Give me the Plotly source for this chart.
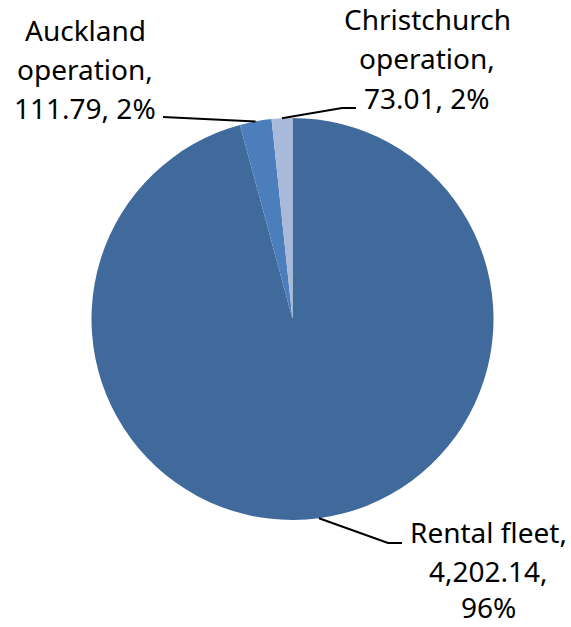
import math
import plotly.graph_objects as go

# ---- data ----
categories = ["Rental fleet", "Auckland operation", "Christchurch operation"]
values = [4202.14, 111.79, 73.01]
pct_labels = [96, 2, 2]          # percentages as printed in the chart
label_lines = [
    ["Rental fleet,", "{v},", "{p}%"],
    ["Auckland", "operation,", "{v}, {p}%"],
    ["Christchurch", "operation,", "{v}, {p}%"],
]
colors = ["#406A9C", "#4C7EBC", "#A8B9DA"]

# ---- layout constants (pixels) ----
W, H = 571, 627
CX, CY, R = 292.5, 319.0, 201.0
label_x = [488, 85, 427]                      # text block centre x
label_baselines = [[542, 581, 617], [40, 79, 118], [29, 68, 108]]
leader_pts = [[(402, 543), (388, 543)],       # label-side points of leader lines
              [(163, 117)],
              [(356, 108), (342, 108)]]

FONT = "Noto Sans, Open Sans, sans-serif"
FS = 28


def px(x):
    return x / W


def py(y):
    return 1 - y / H


fig = go.Figure(go.Pie(
    labels=categories,
    values=values,
    sort=False,
    direction="clockwise",
    rotation=0,
    marker=dict(colors=colors, line=dict(width=0)),
    textinfo="none",
    hoverinfo="label+value+percent",
    showlegend=False,
    domain=dict(x=[px(CX - R), px(CX + R)], y=[py(CY + R), py(CY - R)]),
))

total = sum(values)
cum = 0.0
shapes = []
annotations = []
for i, (cat, v) in enumerate(zip(categories, values)):
    mid = (cum + v / 2) / total * 2 * math.pi
    cum += v
    ex = CX + R * math.sin(mid)
    ey = CY - R * math.cos(mid)
    pts = leader_pts[i] + [(ex, ey)]
    path = "M " + " L ".join(f"{px(x):.5f},{py(y):.5f}" for x, y in pts)
    shapes.append(dict(type="path", xref="paper", yref="paper", path=path,
                       line=dict(color="black", width=2)))
    vtxt = f"{v:,.2f}"
    for line, base in zip(label_lines[i], label_baselines[i]):
        annotations.append(dict(x=px(label_x[i]), y=py(base - 0.36 * FS),
                                xref="paper", yref="paper",
                                text=line.format(v=vtxt, p=pct_labels[i]),
                                showarrow=False, xanchor="center",
                                yanchor="middle", align="center",
                                borderpad=0,
                                font=dict(family=FONT, size=FS, color="black")))

fig.update_layout(
    width=W, height=H,
    margin=dict(l=0, r=0, t=0, b=0),
    paper_bgcolor="white",
    plot_bgcolor="white",
    shapes=shapes,
    annotations=annotations,
)

fig.write_html("out.html", config={"displayModeBar": False},
               post_script="document.body.style.margin='0';")
